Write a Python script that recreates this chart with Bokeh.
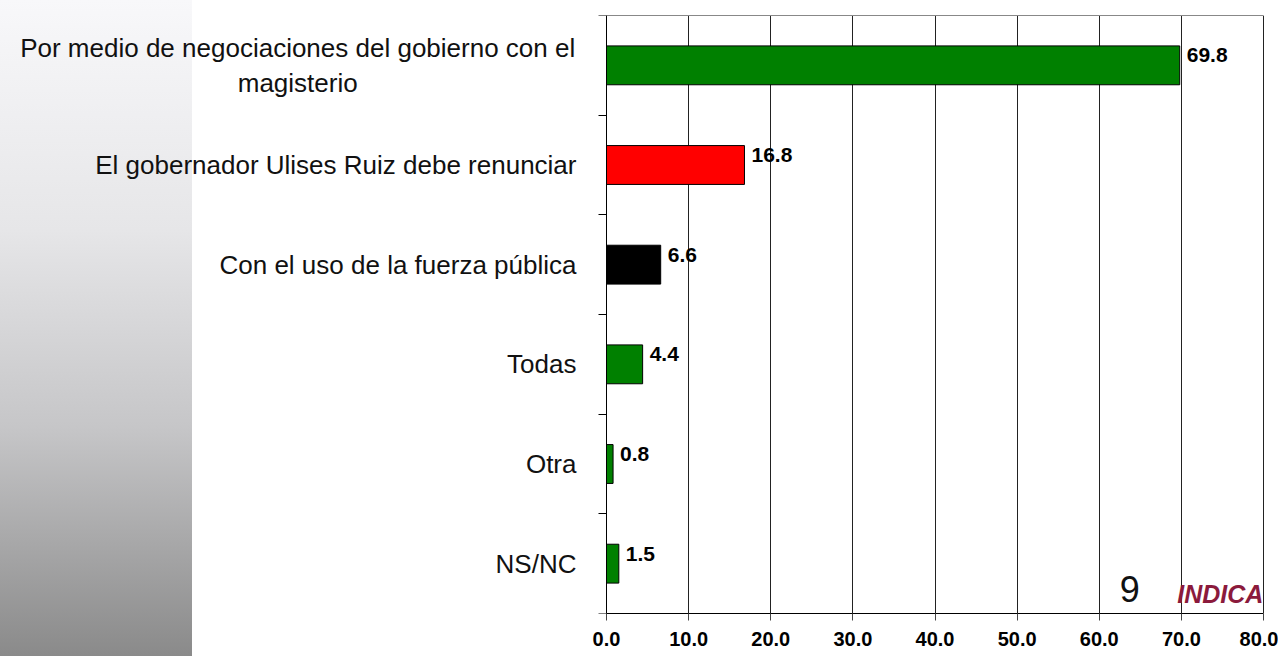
from bokeh.plotting import figure
from bokeh.models import (Range1d, FixedTicker, NumeralTickFormatter, ColumnDataSource, Label,
                          LinearAxis)
from bokeh.core.properties import value
from bokeh.embed import file_html
from bokeh.resources import INLINE

# ---- data ----
categories = [
    "Por medio de negociaciones del gobierno con el\nmagisterio",
    "El gobernador Ulises Ruiz debe renunciar",
    "Con el uso de la fuerza pública",
    "Todas",
    "Otra",
    "NS/NC",
]
values = [69.8, 16.8, 6.6, 4.4, 0.8, 1.5]
bar_colors = ["#008000", "#FF0000", "#000000", "#008000", "#008000", "#008000"]
x_ticks = [0, 10, 20, 30, 40, 50, 60, 70, 80]
page_number = "9"
logo_text = "INDICA"

n = len(categories)
centers = [n - 0.5 - i for i in range(n)]
labels_txt = [f"{v:.1f}" for v in values]

src = ColumnDataSource(dict(y=centers, v=values, c=bar_colors, t=labels_txt))

# layout: value axis 0..80 spans pixels 606..1263 of a 1278 px wide frame
W = 1278
px0, px80 = 606, 1263
ppu = (px80 - px0) / 80.0
x_start = -px0 / ppu
x_end = 80 + (W - px80) / ppu

p = figure(width=W, height=656, output_backend="svg", toolbar_location=None,
           x_range=Range1d(x_start, x_end), y_range=Range1d(0, n),
           min_border_left=0, min_border_right=0, min_border_top=15, min_border_bottom=43)
p.border_fill_color = None
p.background_fill_color = None
p.styles = {"background": "linear-gradient(to bottom, #f8f8fa 0%, #e6e6e8 35%, #c6c6c8 65%, #8a8a8a 100%) 0 0 / 192px 100% no-repeat, #ffffff"}
p.outline_line_color = None

p.xgrid.ticker = FixedTicker(ticks=x_ticks)
p.xgrid.grid_line_color = "#222222"
p.xgrid.grid_line_width = 1
p.ygrid.grid_line_color = None

p.hbar(y="y", left=0, right="v", height=0.39, fill_color="c", line_color="black",
       line_width=1, source=src)

p.text(x="v", y="y", text="t", x_offset=7, y_offset=-10, source=src,
       text_font=value("Liberation Sans"), text_font_style="bold",
       text_font_size="21px", text_baseline="middle", text_align="left", text_color="black")

# x axis
xa = p.xaxis[0]
xa.ticker = FixedTicker(ticks=x_ticks)
xa.bounds = (0, 80)
xa.formatter = NumeralTickFormatter(format="0.0")
xa.major_label_text_font = "Liberation Sans"
xa.major_label_text_font_style = "bold"
xa.major_label_text_font_size = "20px"
xa.major_label_text_color = "black"
xa.major_tick_out = 7
xa.major_tick_in = 0
xa.minor_tick_out = 0
xa.minor_tick_in = 0
xa.axis_line_color = "black"
xa.major_tick_line_color = "#444444"
xa.major_label_standoff = 11

# top border as an unlabeled axis line
top = LinearAxis(ticker=FixedTicker(ticks=[]), bounds=(0, 80), axis_line_color="#888888",
                 major_label_text_font_size="0px", major_tick_out=0, minor_tick_out=0)
p.add_layout(top, "above")

# y axis at x=0: labels at centres, tick marks at boundaries (minor ticks)
ya = p.yaxis[0]
ya.fixed_location = 0
ya.ticker = FixedTicker(ticks=centers, minor_ticks=list(range(n + 1)))
overrides = {float(c): cat for c, cat in zip(centers, categories)}
overrides[float(centers[0])] = ""  # two-line label drawn centred below
ya.major_label_overrides = overrides
ya.major_tick_out = 0
ya.major_tick_in = 0
ya.minor_tick_out = 8
ya.minor_tick_in = 0
ya.minor_tick_line_color = "black"
ya.axis_line_color = "black"
ya.major_label_standoff = 22
ya.major_label_text_font = "Liberation Sans"
ya.major_label_text_font_size = "26px"
ya.major_label_text_color = "#111111"

# the two-line category label, centred line by line
p.add_layout(Label(x=-37.6, y=centers[0], text=categories[0], text_font="Liberation Sans",
                   text_font_size="26px", text_color="#111111", text_align="center",
                   text_baseline="middle", text_line_height=1.15))

# decorations: page number and logo text
p.add_layout(Label(x=63.7, y=0.25, text=page_number, text_font="Liberation Sans",
                   text_font_size="36px", text_color="#111111", text_align="center",
                   text_baseline="middle"))
p.add_layout(Label(x=69.5, y=0.2, text=logo_text, text_font="Liberation Sans",
                   text_font_style="bold italic", text_font_size="25px",
                   text_color="#8B1A3C", text_align="left", text_baseline="middle"))

open("out.html", "w").write(file_html(p, INLINE))
